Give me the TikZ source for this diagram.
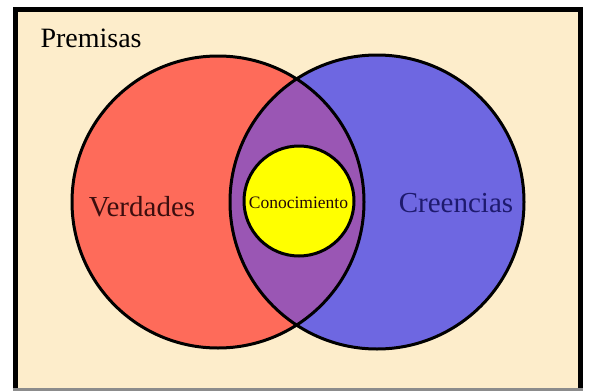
\documentclass[tikz,border=0pt]{standalone}
\usepackage{fontspec}
\setmainfont{Liberation Serif}
\definecolor{premcream}{RGB}{253, 237, 203}
\definecolor{verdred}{RGB}{254, 107, 90}
\definecolor{creenblue}{RGB}{110, 103, 225}
\definecolor{conjpurple}{RGB}{154, 86, 180}
\definecolor{conoyellow}{RGB}{255, 255, 0}
\definecolor{verdtext}{RGB}{60, 14, 14}
\definecolor{creentext}{RGB}{30, 26, 110}
\usepackage{tikz}
\usetikzlibrary{positioning}

\tikzset{
  setcircle/.style={circle, inner sep=0pt, outer sep=0pt},
  setlabel/.style={font=\fontsize{29}{31}\selectfont, anchor=base}
}

\begin{document}
\begin{tikzpicture}[x=1pt, y=-1pt]
  \useasboundingbox (0,0) rectangle (592,391);
  % frame
  \fill[premcream] (15,9.5) rectangle (580.5,391);
  \draw[line width=5pt] (15,391) -- (15,9.5) -- (580.5,9.5) -- (580.5,391);
  \draw[line width=3pt, black!45] (12.5,389.5) -- (583,389.5);
  \node[font=\fontsize{28}{30}\selectfont, anchor=base west] (premisas) at (37,47) {Premisas};
  % the two sets
  \node[setcircle, fill=verdred, minimum size=292pt] (verd) at (218,202) {};
  \node[setcircle, fill=creenblue, minimum size=294pt] (creen) at (377,202) {};
  \begin{scope}
    \clip (verd.center) circle (146pt);
    \fill[conjpurple] (creen.center) circle (147pt);
  \end{scope}
  \draw[line width=3pt] (verd.center) circle (146pt);
  \draw[line width=3pt] (creen.center) circle (147pt);
  % knowledge
  \node[setcircle, draw, line width=3pt, fill=conoyellow, minimum size=110pt] (cono) at (299,201) {};
  \node[setlabel, verdtext] (verdades) at (142,216) {Verdades};
  \node[setlabel, creentext] (creencias) at (456,212) {Creencias};
  \node[font=\fontsize{17.5}{19}\selectfont, anchor=base, verdtext!60!black] (conocimiento) at (298.5,208) {Conocimiento};
\end{tikzpicture}
\end{document}
